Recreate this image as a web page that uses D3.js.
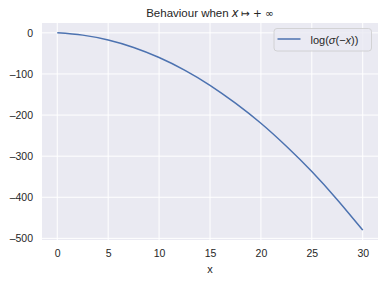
<!DOCTYPE html>
<html>
<head>
<meta charset="utf-8">
<script src="https://cdn.jsdelivr.net/npm/d3@7"></script>
<style>
  body { margin: 0; background: #fff; }
  text { font-family: "Liberation Sans", Arial, sans-serif; fill: #262626; }
</style>
</head>
<body>
<div id="root"></div>
<script>
// values
const xs = [0, 2.5, 5, 7.5, 10, 12.5, 15, 17.5, 20, 22.5, 25, 27.5, 30]
const ys = [0, -5.5, -17.5, -35.5, -60, -90.5, -127.5, -171, -220, -276, -337.5, -406, -480]
const xTicks = [0, 5, 10, 15, 20, 25, 30]
const yTicks = [0, -100, -200, -300, -400, -500]

const w = 383, h = 281
const mLeft = 42, mRight = 378, mTop = 23, mBottom = 240

const x = d3.scaleLinear().domain([-1.5, 31.5]).range([mLeft, mRight])
const y = d3.scaleLinear().domain([-504, 24]).range([mBottom, mTop])

const svg = d3.select("#root").append("svg")
    .attr("width", w)
    .attr("height", h)

svg.append("rect")
    .attr("x", mLeft).attr("y", mTop)
    .attr("width", mRight - mLeft).attr("height", mBottom - mTop)
    .attr("fill", "#EAEAF2")

// grid
svg.append("g").selectAll("line").data(xTicks).enter().append("line")
    .attr("x1", d => x(d)).attr("x2", d => x(d))
    .attr("y1", mTop).attr("y2", mBottom)
    .attr("stroke", "#fff").attr("stroke-width", 1)
svg.append("g").selectAll("line").data(yTicks).enter().append("line")
    .attr("x1", mLeft).attr("x2", mRight)
    .attr("y1", d => y(d)).attr("y2", d => y(d))
    .attr("stroke", "#fff").attr("stroke-width", 1)

// axes (labels only, seaborn style)
const xAxis = svg.append("g")
    .attr("transform", `translate(0,${mBottom})`)
    .call(d3.axisBottom(x).tickValues(xTicks).tickSize(0).tickPadding(10))
const yAxis = svg.append("g")
    .attr("transform", `translate(${mLeft},0)`)
    .call(d3.axisLeft(y).tickValues(yTicks).tickSize(0).tickPadding(9)
        .tickFormat(d => d < 0 ? "\u2013" + Math.abs(d) : d))
;[xAxis, yAxis].forEach(a => {
    a.select(".domain").remove()
    a.selectAll("text").attr("font-size", 10.5).attr("fill", "#262626")
        .attr("font-family", "Liberation Sans, Arial, sans-serif")
})

// line
const pts = xs.map((v, i) => [v, ys[i]])
svg.append("path")
    .datum(pts)
    .attr("fill", "none")
    .attr("stroke", "#4C72B0")
    .attr("stroke-width", 1.5)
    .attr("d", d3.line().x(d => x(d[0])).y(d => y(d[1])).curve(d3.curveNatural))

// title
const title = svg.append("text")
    .attr("x", (mLeft + mRight) / 2)
    .attr("y", 17)
    .attr("text-anchor", "middle")
    .attr("font-size", 11.5)
title.append("tspan").text("Behaviour when ")
title.append("tspan").attr("font-family", "DejaVu Sans").attr("font-style", "italic").text("x")
title.append("tspan").attr("font-family", "DejaVu Sans").attr("font-size", 10.5).text("\u2009\u21A6 + \u221E")

// x label
svg.append("text")
    .attr("x", (mLeft + mRight) / 2)
    .attr("y", 273)
    .attr("text-anchor", "middle")
    .attr("font-size", 11)
    .text("x")

// legend
const lg = svg.append("g")
lg.append("rect")
    .attr("x", 274).attr("y", 28.5)
    .attr("width", 97.5).attr("height", 22.5)
    .attr("rx", 3)
    .attr("fill", "#EAEAF2").attr("fill-opacity", 0.8)
    .attr("stroke", "#cccccc").attr("stroke-width", 0.8)
lg.append("line")
    .attr("x1", 277.5).attr("x2", 300.5)
    .attr("y1", 39).attr("y2", 39)
    .attr("stroke", "#4C72B0").attr("stroke-width", 1.5)
const lt = lg.append("text")
    .attr("x", 310.5).attr("y", 44)
    .attr("font-size", 11)
    .attr("font-family", "DejaVu Sans")
lt.append("tspan").text("log(")
lt.append("tspan").attr("font-style", "italic").text("\u03C3")
lt.append("tspan").text("(\u2212")
lt.append("tspan").attr("font-style", "italic").text("x")
lt.append("tspan").text("))")
</script>
</body>
</html>
